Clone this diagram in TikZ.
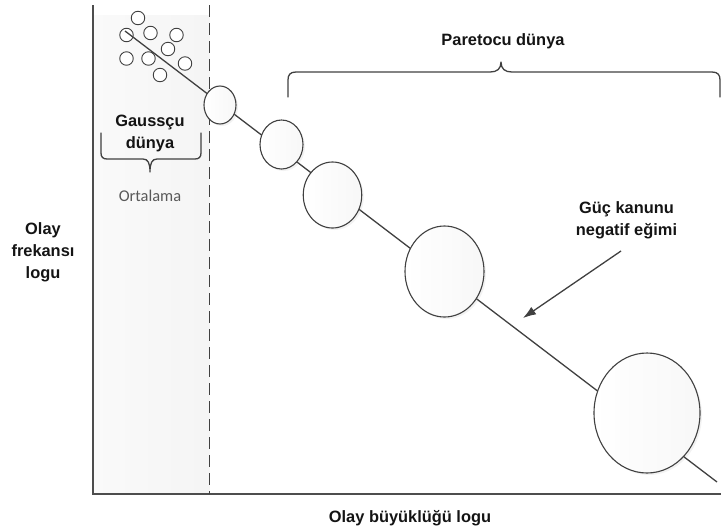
\documentclass[tikz,border=0pt]{standalone}
\usepackage{fontspec}
\setmainfont{Liberation Sans}
\newfontfamily\calibfont{Carlito}
\usetikzlibrary{arrows.meta,shapes.geometric,shadows}
\definecolor{ink}{HTML}{404040}
\definecolor{axisgray}{HTML}{4D4D4D}
\definecolor{notegray}{HTML}{595959}
\definecolor{textblack}{HTML}{141414}

\begin{document}
\begin{tikzpicture}[x=1pt,y=-1pt,
  lbl/.style={font=\fontsize{16.4}{21.7}\selectfont\bfseries, text=textblack, align=center, inner sep=0pt, anchor=base},
  bubble/.style={ellipse, draw=ink, line width=1.1pt, inner sep=0pt,
    left color=white, right color=gray!6,
    drop shadow={opacity=0.1, shadow xshift=2pt, shadow yshift=-2pt}},
  dot/.style={circle, draw=ink, line width=0.9pt, fill=white, minimum size=13.5pt, inner sep=0pt},
  axisline/.style={draw=axisgray, line width=1.4pt},
  brace/.style={draw=ink, line width=1.3pt, line join=round, line cap=round}]

\useasboundingbox (0,0) rectangle (723,531);

% shaded Gaussian band
\fill[left color=gray!4, right color=gray!8] (93,15) rectangle (209.5,494);

% axes
\coordinate (ytop) at (93,5);
\coordinate (origin) at (93,494);
\coordinate (xend) at (721,494);
\draw[axisline] (ytop) -- (origin) -- (xend);

% dashed boundary of the band
\coordinate (dtop) at (209.5,5);
\coordinate (dbot) at (209.5,494);
\draw[draw=ink, line width=1.3pt, dash pattern=on 12pt off 6pt] (dtop) -- (dbot);

% cluster of small events
\node[dot] (g1) at (138,18) {};
\node[dot] (g2) at (126.5,35) {};
\node[dot] (g3) at (150.5,33) {};
\node[dot] (g4) at (176.5,35) {};
\node[dot] (g5) at (168,49) {};
\node[dot] (g6) at (126.5,58.5) {};
\node[dot] (g7) at (148.5,58.5) {};
\node[dot] (g8) at (185,63.5) {};
\node[dot] (g9) at (160,75) {};

% power-law trend line
\coordinate (ls) at (125,31);
\coordinate (le) at (717,482);
\draw[ink, line width=1.3pt] (ls) -- (le);

% growing events along the line
\node[bubble, minimum width=32pt, minimum height=38pt] (b1) at (220,105) {};
\node[bubble, minimum width=43pt, minimum height=49pt] (b2) at (281.5,144.5) {};
\node[bubble, minimum width=58.5pt, minimum height=66pt] (b3) at (332.5,195) {};
\node[bubble, minimum width=79pt, minimum height=91pt] (b4) at (444.5,271.5) {};
\node[bubble, minimum width=106pt, minimum height=120pt] (b5) at (647,413) {};

% braces
\draw[brace] (101,133) -- (101,153) .. controls (101,157) and (103,159) .. (107,159)
  -- (143,159) .. controls (148,159) and (150,163) .. (150,172)
  .. controls (150,163) and (152,159) .. (157,159) -- (195,159)
  .. controls (199,159) and (201,157) .. (201,153) -- (201,133);
\draw[brace] (288,97) -- (288,80) .. controls (288,75) and (290,72) .. (296,72)
  -- (490,72) .. controls (497,72) and (501,69) .. (501,62)
  .. controls (501,69) and (505,72) .. (512,72) -- (712,72)
  .. controls (718,72) and (720,75) .. (720,80) -- (720,97);

% labels (multi-line nodes sit on the baseline of their last line)
\node[lbl] (pareto) at (503,45) {Paretocu dünya};
\node[lbl] (gauss) at (150,148.5) {Gaussçu\\dünya};
\node[font=\calibfont\fontsize{16.4}{20}\selectfont, text=notegray, inner sep=0pt, anchor=base] (avg) at (150,201.5) {Ortalama};
\node[lbl] (ylab) at (43,278) {Olay\\frekansı\\logu};
\node[lbl] (law) at (626.5,235) {Güç kanunu\\negatif eğimi};
\node[lbl] (xlab) at (410,522) {Olay büyüklüğü logu};

% pointer to the slope
\coordinate (ptail) at (621,251);
\coordinate (ptip) at (523,318);
\draw[ink, line width=1.3pt, -{Latex[length=13pt,width=9pt]}] (ptail) -- (ptip);

\end{tikzpicture}
\end{document}
